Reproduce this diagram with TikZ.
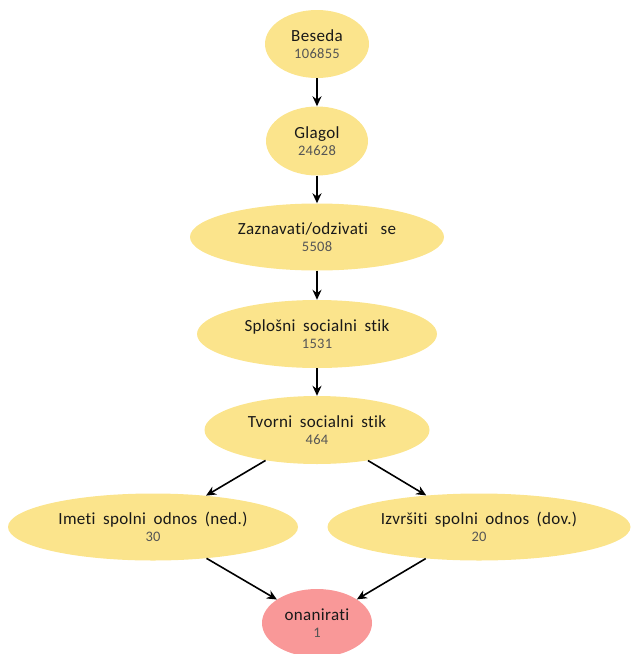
\documentclass[tikz,border=0pt]{standalone}
\usepackage{fontspec}
\setmainfont{Carlito}[Ligatures=NoCommon, LetterSpace=2, WordSpace=1.8]
\usetikzlibrary{shapes.geometric,arrows.meta}
\definecolor{concept}{RGB}{251,228,140}
\definecolor{leaf}{RGB}{249,152,152}
\definecolor{countgray}{RGB}{85,85,85}
\definecolor{labelblack}{RGB}{25,25,25}
\tikzset{
  term/.style={ellipse, fill=concept, draw=none, inner sep=0pt,
    align=center, font=\fontsize{17}{17}\selectfont, text=labelblack},
  target/.style={term, fill=leaf},
  link/.style={-{Stealth[length=10pt,width=9pt]}, line width=1.6pt, black},
}
\newcommand{\cnt}[1]{\\{\fontsize{14.5}{17}\selectfont\color{countgray}#1}}
\begin{document}
\begin{tikzpicture}[x=1pt,y=-1pt]
\useasboundingbox (0,0) rectangle (630,654);
\node[term, minimum width=104pt, minimum height=68pt] (beseda) at (317,44) {Beseda\cnt{106855}};
\node[term, minimum width=102pt, minimum height=69pt] (glagol) at (317,141) {Glagol\cnt{24628}};
\node[term, minimum width=254pt, minimum height=67pt] (zazn) at (317,237) {Zaznavati/odzivati\hspace{5pt} se\cnt{5508}};
\node[term, minimum width=240pt, minimum height=68pt] (splosni) at (317,334) {Splošni socialni stik\cnt{1531}};
\node[term, minimum width=225pt, minimum height=68pt] (tvorni) at (317,430) {Tvorni socialni stik\cnt{464}};
\node[term, minimum width=290pt, minimum height=67pt] (imeti) at (153,527) {Imeti spolni odnos (ned.)\cnt{30}};
\node[term, minimum width=303pt, minimum height=67pt] (izvrsiti) at (479,527) {Izvršiti spolni odnos (dov.)\cnt{20}};
\node[target, minimum width=110pt, minimum height=68pt] (onan) at (317,623) {onanirati\cnt{1}};
\draw[link] (beseda) -- (glagol);
\draw[link] (glagol) -- (zazn);
\draw[link] (zazn) -- (splosni);
\draw[link] (splosni) -- (tvorni);
\draw[link] (tvorni) -- (imeti);
\draw[link] (tvorni) -- (izvrsiti);
\draw[link] (imeti) -- (onan);
\draw[link] (izvrsiti) -- (onan);
\end{tikzpicture}
\end{document}
